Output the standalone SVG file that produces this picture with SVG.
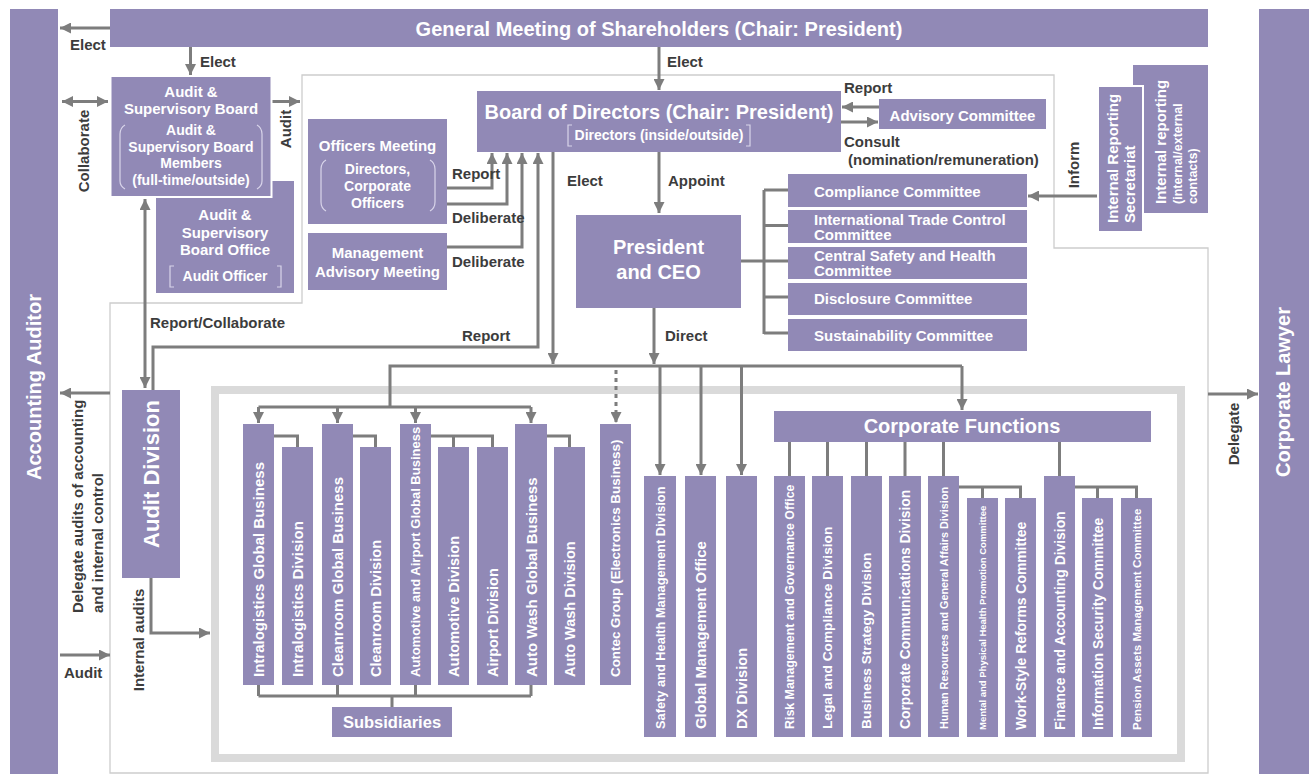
<svg xmlns="http://www.w3.org/2000/svg" width="1309" height="774" viewBox="0 0 1309 774">
<defs>
<style>
.bx{fill:#9189b6}
.bw{fill:#9189b6;stroke:#fff;stroke-width:2}
.wt{fill:#fff;font-family:"Liberation Sans",Arial,sans-serif;font-weight:bold;text-anchor:middle;dominant-baseline:central}
.vt{fill:#fff;font-family:"Liberation Sans",Arial,sans-serif;font-weight:bold;text-anchor:start;dominant-baseline:central}
.lb{fill:#3c3c3c;font-family:"Liberation Sans",Arial,sans-serif;font-weight:bold;font-size:15px;dominant-baseline:central}
.ln{stroke:#7d7d7d;stroke-width:3;fill:none}
.ar{stroke:#7d7d7d;stroke-width:3;fill:none;marker-end:url(#ah)}
.ar2{stroke:#7d7d7d;stroke-width:3;fill:none;marker-end:url(#ah);marker-start:url(#ahs)}
.dot{stroke:#7d7d7d;stroke-width:3;fill:none;stroke-dasharray:4 4;marker-end:url(#ah)}
.thin{stroke:#cdcdcd;stroke-width:1.3;fill:none}
.frame{stroke:#dadada;stroke-width:8;fill:none}
.br{stroke:#d9d5ea;stroke-width:1.2;fill:none}
</style>
<marker id="ah" viewBox="0 0 10 10" refX="10" refY="5" markerWidth="11" markerHeight="11" markerUnits="userSpaceOnUse" orient="auto"><path d="M0,0 L10,5 L0,10 z" fill="#7d7d7d"/></marker>
<marker id="ahs" viewBox="0 0 10 10" refX="0" refY="5" markerWidth="11" markerHeight="11" markerUnits="userSpaceOnUse" orient="auto"><path d="M10,0 L0,5 L10,10 z" fill="#7d7d7d"/></marker>
</defs>
<rect width="1309" height="774" fill="#fff"/>

<!-- outlines -->
<g id="outlines">
<path class="thin" d="M302,75 H1054 V248 H1208 V773 H110 V303 H302 Z"/>
<rect class="frame" x="215" y="390" width="966" height="368"/>
</g>

<!-- connectors -->
<g id="connectors">
<path class="ar" d="M110,28 H60"/>
<path class="ar" d="M190.5,47 V75"/>
<path class="ar2" d="M62,101.5 H108"/>
<path class="ar" d="M272,101.5 H300"/>
<path class="ar2" d="M145,199 V388"/>
<path class="ar" d="M153,390 V347 H538 V153"/>
<path class="ar" d="M151,578 V633 H210"/>
<path class="ar" d="M110,393 H60"/>
<path class="ar" d="M60,655 H110"/>
<path class="ar" d="M659,47 V90"/>
<path class="ar" d="M447,188 H492 V153"/>
<path class="ar" d="M447,204 H507 V153"/>
<path class="ar" d="M447,247 H522 V153"/>
<path class="ar" d="M659,152 V213"/>
<path class="ar" d="M553,152 V364"/>
<path class="ar" d="M654,308 V364"/>
<path class="ar" d="M879,107 H842"/>
<path class="ar" d="M841,122 H878"/>
<path class="ar" d="M1098,196 H1028"/>
<path class="ar" d="M1208,394 H1258"/>
<path class="ln" d="M741,261 H764 M764,190 V334 M764,190 H788 M764,225.5 H788 M764,261 H788 M764,297 H788 M764,333 H788"/>
<path class="ln" d="M390,407 V366 H962"/>
<path class="ar" d="M962,366 V410"/>
<path class="ln" d="M258.5,407 H531"/>
<path class="ar" d="M258.5,407 V423"/>
<path class="ar" d="M337.5,407 V423"/>
<path class="ar" d="M415.5,407 V423"/>
<path class="ar" d="M531,407 V423"/>
<path class="dot" d="M616,370 V423"/>
<path class="ar" d="M660,366 V475"/>
<path class="ar" d="M701,366 V475"/>
<path class="ar" d="M741.5,366 V475"/>
<path class="ln" d="M274,436 H297.5 V447 M353,436 H375.5 V447 M431,436 H492.5 V447 M453.5,436 V447 M547,436 H569.5 V447"/>
<path class="ln" d="M258.5,685 V696 M337.5,685 V696 M415.5,685 V696 M531,685 V696 M258.5,696 H531 M392,696 V707"/>
<path class="ln" d="M789.5,442 V476 M827.5,442 V476 M866.5,442 V476 M905,442 V476 M943.5,442 V476 M1059.5,442 V476"/>
<path class="ln" d="M959,487 H1020.5 V498 M982.5,487 V498 M1075,487 H1136.5 V498 M1097.5,487 V498"/>
</g>

<!-- labels -->
<g id="labels">
<text class="lb" x="70" y="44">Elect</text>
<text class="lb" x="200" y="61">Elect</text>
<text class="lb" x="667" y="61">Elect</text>
<text class="lb" text-anchor="middle" transform="translate(83,151) rotate(-90)">Collaborate</text>
<text class="lb" text-anchor="middle" transform="translate(285,129) rotate(-90)">Audit</text>
<text class="lb" x="150" y="322">Report/Collaborate</text>
<text class="lb" x="452" y="173">Report</text>
<text class="lb" x="452" y="217">Deliberate</text>
<text class="lb" x="452" y="261">Deliberate</text>
<text class="lb" x="462" y="335">Report</text>
<text class="lb" x="567" y="180">Elect</text>
<text class="lb" x="668" y="180">Appoint</text>
<text class="lb" x="665" y="335">Direct</text>
<text class="lb" x="844" y="87">Report</text>
<text class="lb" x="844" y="141">Consult</text>
<text class="lb" x="848" y="159">(nomination/remuneration)</text>
<text class="lb" text-anchor="middle" transform="translate(1073,165) rotate(-90)">Inform</text>
<text class="lb" text-anchor="middle" transform="translate(1233,434) rotate(-90)">Delegate</text>
<text class="lb" text-anchor="start" transform="translate(77,613) rotate(-90)">Delegate audits of accounting</text>
<text class="lb" text-anchor="start" transform="translate(97,613) rotate(-90)">and internal control</text>
<text class="lb" text-anchor="middle" transform="translate(138,640) rotate(-90)">Internal audits</text>
<text class="lb" x="64" y="672">Audit</text>
</g>

<!-- nodes -->
<g id="accounting-auditor"><rect class="bx" x="10" y="9" width="48" height="765"/><text class="wt" font-size="20" transform="translate(34,387) rotate(-90)">Accounting Auditor</text></g>
<g id="corporate-lawyer"><rect class="bx" x="1259" y="9" width="50" height="765"/><text class="wt" font-size="20" transform="translate(1283,392) rotate(-90)">Corporate Lawyer</text></g>
<g id="gm"><rect class="bx" x="110" y="9" width="1098" height="38"/><text class="wt" font-size="20" x="659" y="29">General Meeting of Shareholders (Chair: President)</text></g>

<g id="asb-office"><rect class="bx" x="156" y="181" width="138" height="112"/>
<text class="wt" font-size="15" x="225" y="214">Audit &amp;</text>
<text class="wt" font-size="15" x="225" y="232">Supervisory</text>
<text class="wt" font-size="15" x="225" y="249">Board Office</text>
<text class="wt" font-size="14" x="225" y="276">Audit Officer</text>
<path class="br" d="M174,266 H170 V287 H174 M277,266 H281 V287 H277"/>
</g>
<g id="asb"><rect class="bw" x="110.5" y="76" width="161" height="121"/>
<text class="wt" font-size="15" x="191" y="91">Audit &amp;</text>
<text class="wt" font-size="15" x="191" y="108">Supervisory Board</text>
<text class="wt" font-size="14" x="191" y="130">Audit &amp;</text>
<text class="wt" font-size="14" x="191" y="147">Supervisory Board</text>
<text class="wt" font-size="14" x="191" y="163">Members</text>
<text class="wt" font-size="14" x="191" y="180">(full-time/outside)</text>
<path class="br" d="M125,125 Q120,128 120,134 V181 Q120,186 125,189 M257,125 Q262,128 262,134 V181 Q262,186 257,189"/>
</g>

<g id="officers-meeting"><rect class="bx" x="308" y="119" width="139" height="105"/>
<text class="wt" font-size="15" x="377.5" y="145">Officers Meeting</text>
<text class="wt" font-size="14" x="377.5" y="169">Directors,</text>
<text class="wt" font-size="14" x="377.5" y="186">Corporate</text>
<text class="wt" font-size="14" x="377.5" y="203">Officers</text>
<path class="br" d="M326,160 Q321,163 321,169 V202 Q321,208 326,211 M430,160 Q435,163 435,169 V202 Q435,208 430,211"/>
</g>
<g id="management-advisory"><rect class="bx" x="308" y="233" width="139" height="57"/>
<text class="wt" font-size="15" x="377.5" y="252">Management</text>
<text class="wt" font-size="15" x="377.5" y="271">Advisory Meeting</text>
</g>

<g id="board"><rect class="bx" x="477" y="91" width="364" height="61"/>
<text class="wt" font-size="20" x="659" y="112">Board of Directors (Chair: President)</text>
<text class="wt" font-size="14" x="659" y="135">Directors (inside/outside)</text>
<path class="br" d="M572,125 H568 V146 H572 M746,125 H750 V146 H746"/>
</g>
<g id="advisory"><rect class="bx" x="879" y="99" width="167" height="30"/><text class="wt" font-size="15" x="962.5" y="115">Advisory Committee</text></g>
<g id="president"><rect class="bx" x="576" y="215" width="165" height="93"/>
<text class="wt" font-size="20" x="658.5" y="247">President</text>
<text class="wt" font-size="20" x="658.5" y="272">and CEO</text>
</g>

<g id="compliance"><rect class="bx" x="788" y="174" width="239" height="33"/><text class="vt" font-size="15" x="814" y="191">Compliance Committee</text></g>
<g id="trade"><rect class="bx" x="788" y="210" width="239" height="33"/><text class="vt" font-size="15" x="814" y="219">International Trade Control</text><text class="vt" font-size="15" x="814" y="234">Committee</text></g>
<g id="safety-cmte"><rect class="bx" x="788" y="247" width="239" height="32"/><text class="vt" font-size="15" x="814" y="255">Central Safety and Health</text><text class="vt" font-size="15" x="814" y="270">Committee</text></g>
<g id="disclosure"><rect class="bx" x="788" y="283" width="239" height="32"/><text class="vt" font-size="15" x="814" y="298">Disclosure Committee</text></g>
<g id="sustainability"><rect class="bx" x="788" y="319" width="239" height="32"/><text class="vt" font-size="15" x="814" y="335">Sustainability Committee</text></g>

<g id="internal-reporting"><rect class="bx" x="1133" y="65" width="75" height="148"/>
<text class="vt" font-size="15" transform="translate(1160,204) rotate(-90)">Internal reporting</text>
<text class="vt" font-size="12.5" transform="translate(1178,204) rotate(-90)">(internal/external</text>
<text class="vt" font-size="12.5" transform="translate(1193,204) rotate(-90)">contacts)</text>
</g>
<g id="secretariat"><rect class="bw" x="1098" y="86" width="45" height="146"/>
<text class="vt" font-size="15" transform="translate(1112,223) rotate(-90)">Internal Reporting</text>
<text class="vt" font-size="15" transform="translate(1129,223) rotate(-90)">Secretariat</text>
</g>

<g id="audit-division"><rect class="bx" x="122" y="390" width="58" height="188"/><text class="wt" font-size="22" transform="translate(151,474) rotate(-90)">Audit Division</text></g>

<g id="intralogistics-gb"><rect class="bx" x="243" y="424" width="31" height="261"/><text class="vt" font-size="15" transform="translate(258.5,677) rotate(-90)">Intralogistics Global Business</text></g>
<g id="intralogistics-div"><rect class="bx" x="282" y="447" width="31" height="238"/><text class="vt" font-size="15" transform="translate(297.5,677) rotate(-90)">Intralogistics Division</text></g>
<g id="cleanroom-gb"><rect class="bx" x="322" y="424" width="31" height="261"/><text class="vt" font-size="15" transform="translate(337.5,677) rotate(-90)">Cleanroom Global Business</text></g>
<g id="cleanroom-div"><rect class="bx" x="360" y="447" width="31" height="238"/><text class="vt" font-size="14.6" transform="translate(375.5,677) rotate(-90)">Cleanroom Division</text></g>
<g id="auto-airport-gb"><rect class="bx" x="400" y="424" width="31" height="261"/><text class="vt" font-size="13" transform="translate(415.5,677) rotate(-90)">Automotive and Airport Global Business</text></g>
<g id="automotive-div"><rect class="bx" x="438" y="447" width="31" height="238"/><text class="vt" font-size="14.6" transform="translate(453.5,677) rotate(-90)">Automotive Division</text></g>
<g id="airport-div"><rect class="bx" x="477" y="447" width="31" height="238"/><text class="vt" font-size="14.5" transform="translate(492.5,677) rotate(-90)">Airport Division</text></g>
<g id="autowash-gb"><rect class="bx" x="515" y="424" width="32" height="261"/><text class="vt" font-size="15" transform="translate(531,677) rotate(-90)">Auto Wash Global Business</text></g>
<g id="autowash-div"><rect class="bx" x="554" y="447" width="31" height="238"/><text class="vt" font-size="14.5" transform="translate(569.5,677) rotate(-90)">Auto Wash Division</text></g>
<g id="subsidiaries"><rect class="bx" x="332" y="707" width="120" height="30"/><text class="wt" font-size="16.5" x="392" y="722">Subsidiaries</text></g>

<g id="contec"><rect class="bx" x="600" y="424" width="31" height="261"/><text class="vt" font-size="13.4" transform="translate(615.5,677) rotate(-90)">Contec Group (Electronics Business)</text></g>
<g id="safety-div"><rect class="bx" x="644" y="476" width="32" height="261"/><text class="vt" font-size="12.8" transform="translate(660,729) rotate(-90)">Safety and Health Management Division</text></g>
<g id="gmo"><rect class="bx" x="685" y="476" width="31" height="261"/><text class="vt" font-size="14.9" transform="translate(700.5,729) rotate(-90)">Global Management Office</text></g>
<g id="dx"><rect class="bx" x="726" y="476" width="31" height="261"/><text class="vt" font-size="14.6" transform="translate(741.5,729) rotate(-90)">DX Division</text></g>

<g id="corporate-functions"><rect class="bx" x="774" y="411" width="377" height="31"/><text class="wt" font-size="20" x="962" y="426">Corporate Functions</text></g>
<g id="risk"><rect class="bx" x="774" y="476" width="31" height="261"/><text class="vt" font-size="12.4" transform="translate(789.5,729) rotate(-90)">Risk Management and Governance Office</text></g>
<g id="legal"><rect class="bx" x="812" y="476" width="31" height="261"/><text class="vt" font-size="13.7" transform="translate(827.5,729) rotate(-90)">Legal and Compliance Division</text></g>
<g id="strategy"><rect class="bx" x="851" y="476" width="31" height="261"/><text class="vt" font-size="13.7" transform="translate(866.5,729) rotate(-90)">Business Strategy Division</text></g>
<g id="communications"><rect class="bx" x="889" y="476" width="32" height="261"/><text class="vt" font-size="13.8" transform="translate(905,729) rotate(-90)">Corporate Communications Division</text></g>
<g id="hr"><rect class="bx" x="928" y="476" width="31" height="261"/><text class="vt" font-size="10.8" transform="translate(943.5,729) rotate(-90)">Human Resources and General Affairs Division</text></g>
<g id="mental"><rect class="bx" x="967" y="498" width="31" height="239"/><text class="vt" font-size="9.5" transform="translate(982.5,730) rotate(-90)">Mental and Physical Health Promotion Committee</text></g>
<g id="workstyle"><rect class="bx" x="1005" y="498" width="31" height="239"/><text class="vt" font-size="13.9" transform="translate(1020.5,730) rotate(-90)">Work-Style Reforms Committee</text></g>
<g id="finance"><rect class="bx" x="1044" y="476" width="31" height="261"/><text class="vt" font-size="13.9" transform="translate(1059.5,730) rotate(-90)">Finance and Accounting Division</text></g>
<g id="infosec"><rect class="bx" x="1082" y="498" width="31" height="239"/><text class="vt" font-size="14" transform="translate(1097.5,730) rotate(-90)">Information Security Committee</text></g>
<g id="pension"><rect class="bx" x="1121" y="498" width="31" height="239"/><text class="vt" font-size="11.5" transform="translate(1136.5,730) rotate(-90)">Pension Assets Management Committee</text></g>
</svg>
